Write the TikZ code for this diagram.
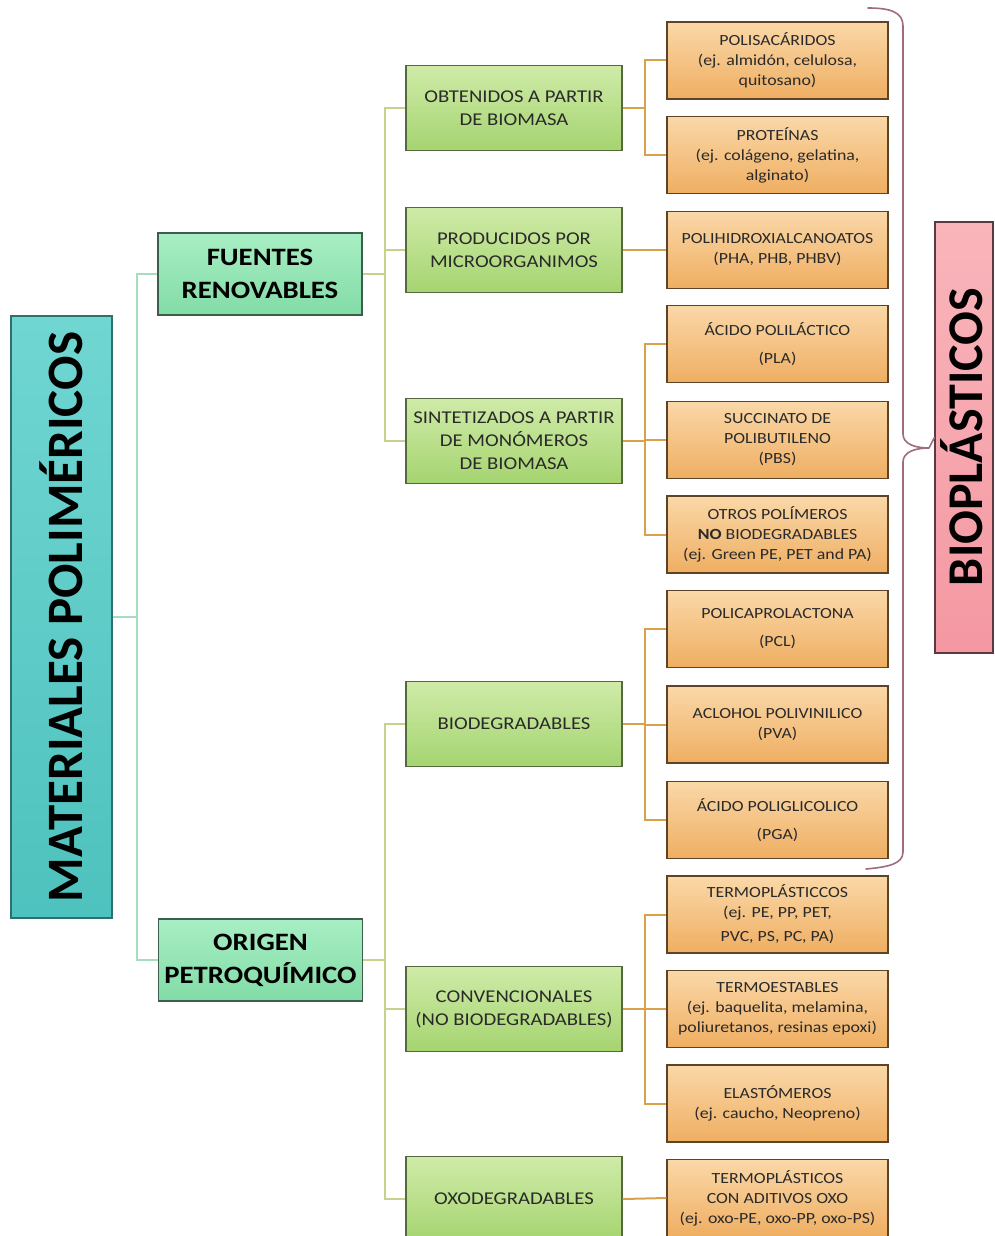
\documentclass[tikz,border=0pt]{standalone}
\usepackage{fontspec}
\setmainfont{Carlito}[FakeStretch=1.15]
\newfontfamily\rotfont{Carlito}
\definecolor{rootA}{HTML}{70D6D2}
\definecolor{rootB}{HTML}{4EC2BE}
\definecolor{rootD}{HTML}{2F6F6D}
\definecolor{lOneA}{HTML}{A8EEC4}
\definecolor{lOneB}{HTML}{82DCA6}
\definecolor{lOneD}{HTML}{3E5E4C}
\definecolor{lTwoA}{HTML}{CFEBA8}
\definecolor{lTwoB}{HTML}{A5D470}
\definecolor{lTwoD}{HTML}{55683E}
\definecolor{lThrA}{HTML}{FAD8A8}
\definecolor{lThrB}{HTML}{EFAE62}
\definecolor{lThrD}{HTML}{5E4427}
\definecolor{pinkA}{HTML}{F9B5BB}
\definecolor{pinkB}{HTML}{F498A2}
\definecolor{pinkD}{HTML}{5A3A3E}
\definecolor{connZero}{HTML}{A6DDBE}
\definecolor{connOne}{HTML}{C9CF8C}
\definecolor{connTwo}{HTML}{D9A24A}
\definecolor{braceC}{HTML}{A06A80}
\definecolor{txt}{HTML}{2A2A2A}
\begin{document}
\begin{tikzpicture}[x=1pt,y=-1pt,
  rootbox/.style={draw=rootD, line width=1.3pt, top color=rootA, bottom color=rootB,
    minimum width=101pt, minimum height=602pt, inner sep=0pt},
  lonebox/.style={draw=lOneD, line width=1.2pt, top color=lOneA, bottom color=lOneB,
    minimum width=204pt, minimum height=82pt, inner sep=0pt, align=center,
    font=\bfseries\fontsize{25}{33}\selectfont, text=black},
  ltwobox/.style={draw=lTwoD, line width=1.2pt, top color=lTwoA, bottom color=lTwoB,
    minimum width=216pt, minimum height=85pt, inner sep=0pt, align=center,
    font=\fontsize{18}{23}\selectfont, text=txt},
  lthreebox/.style={draw=lThrD, line width=1.2pt, top color=lThrA, bottom color=lThrB,
    minimum width=221pt, minimum height=77pt, inner sep=0pt, align=center,
    font=\fontsize{15.5}{20}\selectfont, text=txt},
  pinkbox/.style={draw=pinkD, line width=1.2pt, top color=pinkA, bottom color=pinkB,
    minimum width=58pt, minimum height=431pt, inner sep=0pt},
  pinktext/.style={rotate=90, inner sep=0pt, font=\rotfont\bfseries\fontsize{50}{50}\selectfont, text=black},
  czero/.style={draw=connZero, line width=2pt},
  cone/.style={draw=connOne, line width=2pt},
  ctwo/.style={draw=connTwo, line width=2pt},
  bracestyle/.style={draw=braceC, line width=1.6pt, line cap=round}
]
\useasboundingbox (0,0) rectangle (994,1236);
\fill[white] (0,0) rectangle (994,1236);

\coordinate (b0) at (137,617);
\coordinate (b1) at (385,274);
\coordinate (b2) at (385,960);
\coordinate (bObt) at (645,108);
\coordinate (bSint) at (645,441);
\coordinate (bBio) at (645,724);
\coordinate (bConv) at (645,1009);

% root
\node[rootbox] (root) at (61.5,617) {\rotatebox{90}{\rotfont\bfseries\fontsize{51}{51}\selectfont MATERIALES POLIMÉRICOS}};

% level 1
\node[lonebox] (fuentes) at (260,274) {FUENTES\\RENOVABLES};
\node[lonebox] (origen) at (260.5,960) {ORIGEN\\PETROQUÍMICO};

% level 2
\node[ltwobox] (obt) at (514,108) {OBTENIDOS A PARTIR\\DE BIOMASA};
\node[ltwobox] (prod) at (514,250) {PRODUCIDOS POR\\MICROORGANIMOS};
\node[ltwobox] (sint) at (514,441) {SINTETIZADOS A PARTIR\\DE MONÓMEROS\\DE BIOMASA};
\node[ltwobox] (bio) at (514,724) {BIODEGRADABLES};
\node[ltwobox] (conv) at (514,1009) {CONVENCIONALES\\(NO BIODEGRADABLES)};
\node[ltwobox] (oxo) at (514,1199) {OXODEGRADABLES};

% level 3
\node[lthreebox] (polisac) at (777.5,60.5) {POLISACÁRIDOS\\(ej. almidón, celulosa,\\quitosano)};
\node[lthreebox] (prot) at (777.5,155) {PROTEÍNAS\\(ej. colágeno, gelatina,\\alginato)};
\node[lthreebox] (pha) at (777.5,250) {POLIHIDROXIALCANOATOS\\(PHA, PHB, PHBV)};
\node[lthreebox] (pla) at (777.5,344) {ÁCIDO POLILÁCTICO\\[8pt](PLA)};
\node[lthreebox] (pbs) at (777.5,440) {SUCCINATO DE\\POLIBUTILENO\\(PBS)};
\node[lthreebox] (otros) at (777.5,534.5) {OTROS POLÍMEROS\\\textbf{NO} BIODEGRADABLES\\(ej. Green PE, PET and PA)};
\node[lthreebox] (pcl) at (777.5,629) {POLICAPROLACTONA\\[8pt](PCL)};
\node[lthreebox] (pva) at (777.5,724.5) {ACLOHOL POLIVINILICO\\(PVA)};
\node[lthreebox] (pga) at (777.5,820) {ÁCIDO POLIGLICOLICO\\[8pt](PGA)};
\node[lthreebox] (tpc) at (777.5,914.5) {TERMOPLÁSTICCOS\\(ej. PE, PP, PET,\\[4pt]PVC, PS, PC, PA)};
\node[lthreebox] (tes) at (777.5,1009) {TERMOESTABLES\\(ej. baquelita, melamina,\\poliuretanos, resinas epoxi)};
\node[lthreebox] (ela) at (777.5,1103.5) {ELASTÓMEROS\\(ej. caucho, Neopreno)};
\node[lthreebox] (tpo) at (777.5,1198) {TERMOPLÁSTICOS\\CON ADITIVOS OXO\\(ej. oxo-PE, oxo-PP, oxo-PS)};

% bioplasticos
\node[pinkbox] (biop) at (964,437.5) {};
\node[pinktext] (biopt) at (962,437) {BIOPLÁSTICOS};

% connector paths
\draw[czero] (root.east) -- (b0);
\draw[czero] (b0) |- (fuentes.west);
\draw[czero] (b0) |- (origen.west);

\draw[cone] (fuentes.east) -- (b1);
\draw[cone] (b1) |- (obt.west);
\draw[cone] (b1) |- (prod.west);
\draw[cone] (b1) |- (sint.west);
\draw[cone] (origen.east) -- (b2);
\draw[cone] (b2) |- (bio.west);
\draw[cone] (b2) |- (conv.west);
\draw[cone] (b2) |- (oxo.west);

\draw[ctwo] (obt.east) -- (bObt);
\draw[ctwo] (bObt) |- (polisac.west);
\draw[ctwo] (bObt) |- (prot.west);
\draw[ctwo] (prod.east) -- (pha.west);
\draw[ctwo] (sint.east) -- (bSint);
\draw[ctwo] (bSint) |- (pla.west);
\draw[ctwo] (bSint) |- (pbs.west);
\draw[ctwo] (bSint) |- (otros.west);
\draw[ctwo] (bio.east) -- (bBio);
\draw[ctwo] (bBio) |- (pcl.west);
\draw[ctwo] (bBio) |- (pva.west);
\draw[ctwo] (bBio) |- (pga.west);
\draw[ctwo] (conv.east) -- (bConv);
\draw[ctwo] (bConv) |- (tpc.west);
\draw[ctwo] (bConv) |- (tes.west);
\draw[ctwo] (bConv) |- (ela.west);
\draw[ctwo] (oxo.east) -- (tpo.west);

% brace
\coordinate (brTip) at (929,448);
\draw[bracestyle] (868,8) .. controls (890,8) and (903,12) .. (903,26)
  -- (903,434) .. controls (903,444) and (915,448) .. (brTip)
  .. controls (915,448) and (903,452) .. (903,462)
  -- (903,852) .. controls (903,864) and (888,867) .. (866,869);
\draw[bracestyle] (brTip) -- (biop.west);
\end{tikzpicture}
\end{document}
